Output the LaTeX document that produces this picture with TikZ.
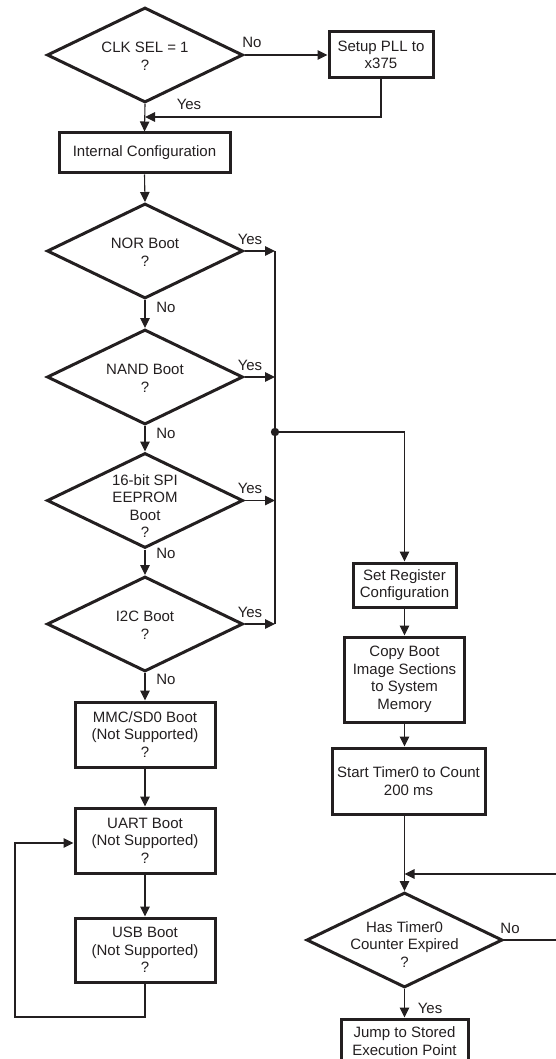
\documentclass[tikz,border=0pt]{standalone}
\usepackage{fontspec}
\setmainfont{Liberation Sans}
\usetikzlibrary{shapes.geometric,arrows.meta}
\definecolor{ink}{HTML}{231F20}
\begin{document}
\begin{tikzpicture}[x=1pt,y=-1pt,
  every node/.style={font=\fontsize{15}{17.5}\selectfont, text=ink},
  dec/.style={draw=ink, diamond, line width=3pt, inner sep=0pt, minimum width=196pt, minimum height=95pt},
  proc/.style={draw=ink, rectangle, line width=3pt, inner sep=0pt, align=center},
  conn/.style={draw=ink, line width=1.1pt},
  arr/.style={conn, -{Triangle[length=10pt,width=9.5pt]}},
  lbl/.style={inner sep=0pt}
]
\useasboundingbox (0,0) rectangle (555,1059);

% left column
\node[dec, label={[align=center,yshift=-1.5pt]center:{CLK SEL = 1\\?}}] (clk) at (145,55) {};
\node[proc, minimum width=104pt, minimum height=46pt] (pll) at (381,55) {Setup PLL to\\x375};
\node[proc, minimum width=171pt, minimum height=40pt] (ic) at (144.5,153) {Internal Configuration};
\node[dec, label={[align=center,yshift=-1.5pt]center:{NOR Boot\\?}}] (nor) at (145,251) {};
\node[dec, label={[align=center,yshift=-1.5pt]center:{NAND Boot\\?}}] (nand) at (145,377) {};
\node[dec, label={[align=center,yshift=-5.5pt]center:{16-bit SPI\\EEPROM\\Boot\\?}}] (spi) at (145,500.5) {};
\node[dec, label={[align=center,yshift=-1.5pt]center:{I2C Boot\\?}}] (iic) at (145,624) {};
\node[proc, minimum width=140pt, minimum height=65pt] (mmc) at (145,734.5) {MMC/SD0 Boot\\(Not Supported)\\?};
\node[proc, minimum width=140pt, minimum height=65pt] (uart) at (145,840.5) {UART Boot\\(Not Supported)\\?};
\node[proc, minimum width=140pt, minimum height=64pt] (usb) at (145,950) {USB Boot\\(Not Supported)\\?};

% right column
\node[proc, minimum width=103pt, minimum height=44pt] (setreg) at (404.5,585) {Set Register\\Configuration};
\node[proc, minimum width=120pt, minimum height=85pt] (copy) at (404.5,679.5) {Copy Boot\\Image Sections\\to System\\Memory};
\node[proc, minimum width=153pt, minimum height=66pt] (start) at (408.5,781) {Start Timer0 to Count\\200 ms};
\node[dec, label={[align=center,yshift=-4.5pt]center:{Has Timer0\\Counter Expired\\?}}] (tmr) at (404.5,940) {};
\node[proc, minimum width=127pt, minimum height=44pt] (jump) at (404.5,1041) {Jump to Stored\\Execution Point};

% coordinates
\coordinate (p1) at (145,117);
\coordinate (c1) at (275,251);
\coordinate (c2) at (275,377);
\coordinate (c3) at (275,500.5);
\coordinate (c4) at (275,624);
\coordinate (j) at (275,432);
\coordinate (l1) at (15,1017);
\coordinate (l2) at (15,843);
\coordinate (r1) at (560,940);
\coordinate (r2) at (404.5,874);

% connectors
\draw[arr] (clk.east) -- (pll.west);
\draw[arr] (pll.south) |- (p1);
\draw[arr] (clk.south) -- (ic.north);
\draw[arr] (ic.south) -- (nor.north);
\draw[arr] (nor.south) -- (nand.north);
\draw[arr] (nand.south) -- (spi.north);
\draw[arr] (spi.south) -- (iic.north);
\draw[arr] (iic.south) -- (mmc.north);
\draw[arr] (mmc.south) -- (uart.north);
\draw[arr] (uart.south) -- (usb.north);
\draw[arr] (usb.south) |- (l1) -- (l2) -- (l2 -| uart.west);

\draw[arr] (nor.east) -- (c1);
\draw[arr] (nand.east) -- (c2);
\draw[arr] (spi.east) -- (c3);
\draw[arr] (iic.east) -- (c4);
\draw[conn] (c1) -- (c4);
\fill[ink] (j) circle (4.2pt);
\draw[arr] (j) -| (setreg.north);

\draw[arr] (setreg.south) -- (copy.north);
\draw[arr] (copy.south) -- (copy.south |- start.north);
\draw[arr] (tmr.north |- start.south) -- (tmr.north);
\draw[arr] (tmr.east) -- (r1) |- (r2);
\draw[arr] (tmr.south) -- (jump.north);

% labels
\node[lbl] (lno0) at (252,42) {No};
\node[lbl] (lyes0) at (189,104) {Yes};
\node[lbl] (ly1) at (250,239) {Yes};
\node[lbl] (ly2) at (250,365) {Yes};
\node[lbl] (ly3) at (250,488) {Yes};
\node[lbl] (ly4) at (250,612) {Yes};
\node[lbl] (ln1) at (166,307) {No};
\node[lbl] (ln2) at (166,433) {No};
\node[lbl] (ln3) at (166,553) {No};
\node[lbl] (ln4) at (166,679) {No};
\node[lbl] (ln5) at (510,928) {No};
\node[lbl] (ly5) at (430,1008) {Yes};
\end{tikzpicture}
\end{document}
